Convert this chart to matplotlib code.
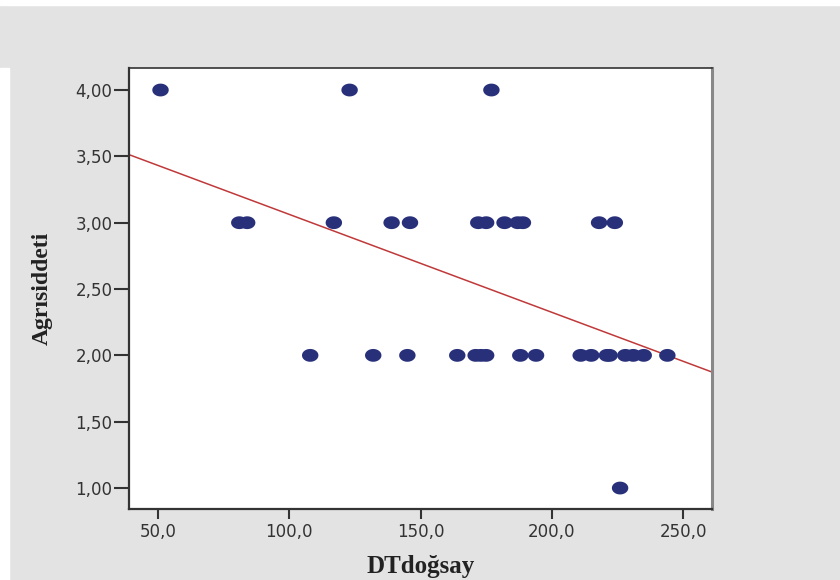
import numpy as np
import matplotlib
matplotlib.use("Agg")
import matplotlib.pyplot as plt
from matplotlib.path import Path
from matplotlib.ticker import FuncFormatter

# ---- data ----
x_level4 = [51, 123, 177]
x_level3 = [81, 84, 117, 139, 146, 172, 175, 182, 187, 189, 218, 224]
x_level2 = [108, 132, 145, 164, 171, 173, 175, 188, 194, 211, 215, 221, 222, 228, 231, 235, 244]
x_level1 = [226]
levels = [4.0, 3.0, 2.0, 1.0]
x_groups = [x_level4, x_level3, x_level2, x_level1]

x_ticks = [50, 100, 150, 200, 250]
y_ticks = [1.0, 1.5, 2.0, 2.5, 3.0, 3.5, 4.0]
x_label = "DTdoğsay"
y_label = "Agrısiddeti"

xs = np.concatenate([np.array(g, float) for g in x_groups])
ys = np.concatenate([np.full(len(g), lv) for g, lv in zip(x_groups, levels)])

fig = plt.figure(figsize=(8.4, 5.8), dpi=100, facecolor="#e3e3e3")
ax = fig.add_axes([129/840, 1-509/580, (712-129)/840, (509-68)/580])
ax.set_facecolor("white")

# elliptical marker
t = np.linspace(0, 2*np.pi, 60)
ell = Path(np.column_stack([np.cos(t), 0.78*np.sin(t)]), closed=True)

ax.scatter(xs, ys, marker=ell, s=140, color="#28307a", edgecolors="none", zorder=3)

xlim = (39, 261)
ylim = (0.842, 4.166)
slope, intercept = np.polyfit(xs, ys, 1)
lx = np.array(xlim)
ax.plot(lx, intercept + slope*lx, color="#c0393a", lw=1.1, zorder=2)

ax.set_xlim(*xlim)
ax.set_ylim(*ylim)
ax.set_xticks(x_ticks)
ax.set_yticks(y_ticks)
ax.xaxis.set_major_formatter(FuncFormatter(lambda v, p: f"{v:.1f}".replace(".", ",")))
ax.yaxis.set_major_formatter(FuncFormatter(lambda v, p: f"{v:.2f}".replace(".", ",")))

for s in ["left", "bottom", "top"]:
    ax.spines[s].set_color("#333333")
ax.spines["left"].set_linewidth(1.6)
ax.spines["bottom"].set_linewidth(1.6)
ax.spines["top"].set_linewidth(1.2)
ax.spines["right"].set_color("#888888")
ax.spines["right"].set_linewidth(2.2)

ax.tick_params(axis="y", length=11, width=1.5, color="#333333", pad=1,
               labelsize=12, labelcolor="#333333")
ax.tick_params(axis="x", length=7, width=1.5, color="#333333", pad=3,
               labelsize=12, labelcolor="#333333")

ax.set_xlabel(x_label, family="Liberation Serif", fontweight="bold", fontsize=18,
              labelpad=10, color="#222222")
ax.set_ylabel(y_label, family="Liberation Serif", fontweight="bold", fontsize=17,
              labelpad=16, color="#222222")

# thin white strips at top and left edges
fig.patches.append(plt.Rectangle((0, 1-5/580), 1, 5/580, transform=fig.transFigure,
                                 color="white", zorder=0))
fig.patches.append(plt.Rectangle((0, 0), 9/840, 1-68/580, transform=fig.transFigure,
                                 color="white", zorder=0))

fig.savefig("out.png", dpi=100, facecolor=fig.get_facecolor())
